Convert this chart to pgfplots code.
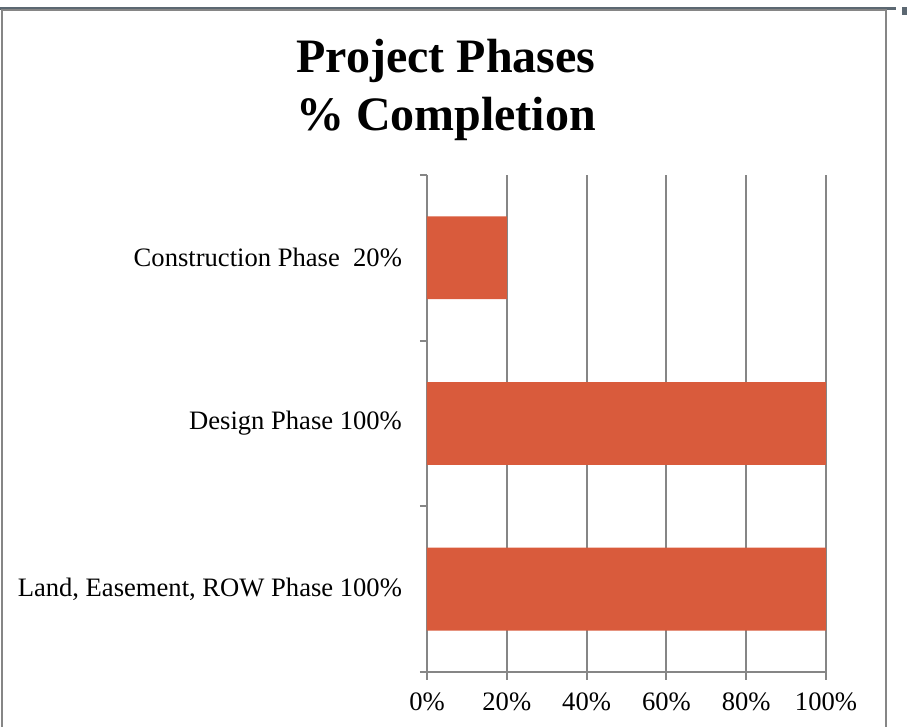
\documentclass[border=0pt]{standalone}
\usepackage{pgfplots}
\pgfplotsset{compat=1.18}
\usepackage{fontspec}
\setmainfont{Liberation Serif}
\definecolor{barcol}{RGB}{217,91,60}
\definecolor{axgray}{RGB}{134,134,134}
\definecolor{framedark}{RGB}{92,104,114}
\begin{document}
\begin{tikzpicture}
\begin{scope}[x=0.5pt,y=0.5pt]
\useasboundingbox (0,0) rectangle (907,727);
% frame of the screenshot
\fill[framedark] (0,717) rectangle (896,720);
\fill[framedark] (902,712) rectangle (907,720);
\draw[axgray,line width=1pt] (2,-5) -- (2,717) -- (886,717) -- (886,-5);
\node[font=\fontsize{24}{29}\selectfont\bfseries,align=center] at (446,637)
  {Project Phases\\\% Completion};
\end{scope}
\begin{axis}[
    at={(213.5pt,27.5pt)}, anchor=south west,
    scale only axis,
    width=199.5pt, height=248.5pt,
    xbar, bar width=0.5,
    xmin=0, xmax=100,
    ymin=-0.5, ymax=2.5,
    axis lines*=left,
    axis line style={axgray,line width=1pt},
    xtick={0,20,40,60,80,100},
    xticklabels={0\%,20\%,40\%,60\%,80\%,100\%},
    ytick={0,1,2},
    yticklabels={{Land, Easement, ROW Phase 100\%},{Design Phase 100\%},{Construction Phase \ 20\%}},
    minor ytick={-0.5,0.5,1.5,2.5},
    tick align=outside,
    major tick length=4pt,
    minor tick length=3.5pt,
    y tick style={draw=none},
    minor y tick style={draw=axgray,line width=1pt},
    x tick style={axgray,line width=1pt},
    xmajorgrids,
    major grid style={axgray,line width=1pt},
    tick label style={font=\fontsize{13.3}{16}\selectfont},
    yticklabel style={xshift=-5pt},
    xticklabel style={yshift=-3pt},
]
\addplot[fill=barcol,draw=none] coordinates {(100,0) (100,1) (20,2)};
\end{axis}
\end{tikzpicture}
\end{document}
